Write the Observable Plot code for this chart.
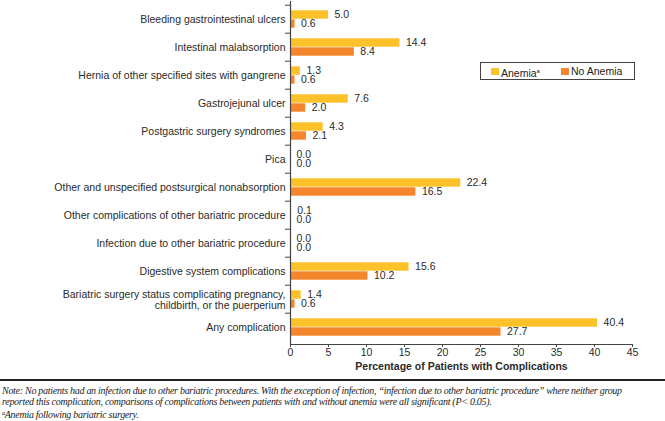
<!DOCTYPE html>
<html>
<head>
<meta charset="utf-8">
<script src="https://cdn.jsdelivr.net/npm/d3@7"></script>
<script src="https://cdn.jsdelivr.net/npm/@observablehq/plot@0.6"></script>
<style>
  body { margin: 0; background: #fff; }
  #wrap { position: relative; width: 665px; height: 421px; overflow: hidden; font-family: "Liberation Sans", Arial, sans-serif; }
  #chart svg { display: block; }
  g[aria-label="x-axis label"] text { font-weight: bold; }
  #legend { position: absolute; left: 480px; top: 62px; width: 153px; height: 16px; border: 1.5px solid #444; font-size: 10.5px; color: #222; }
  #legend .sw { position: absolute; top: 4.5px; width: 7.5px; height: 7.5px; }
  #legend .lb { position: absolute; top: 2px; line-height: 12px; white-space: nowrap; }
  #rule { position: absolute; left: 0; top: 379px; width: 665px; height: 0; border-top: 2px solid #222; }
  #note { position: absolute; left: 2px; top: 385px; font-family: "Liberation Serif", "DejaVu Serif", serif; font-style: italic; font-size: 10px; letter-spacing: -0.28px; line-height: 11.3px; color: #222; white-space: nowrap; }
</style>
</head>
<body>
<div id="wrap">
  <div id="chart"></div>
  <div id="legend"></div>
  <div id="rule"></div>
  <div id="note"></div>
</div>
<script>
const categories = [
  "Bleeding gastrointestinal ulcers",
  "Intestinal malabsorption",
  "Hernia of other specified sites with gangrene",
  "Gastrojejunal ulcer",
  "Postgastric surgery syndromes",
  "Pica",
  "Other and unspecified postsurgical nonabsorption",
  "Other complications of other bariatric procedure",
  "Infection due to other bariatric procedure",
  "Digestive system complications",
  "Bariatric surgery status complicating pregnancy,\nchildbirth, or the puerperium",
  "Any complication"
];
const anemia =   [5.0, 14.4, 1.3, 7.6, 4.3, 0.0, 22.4, 0.1, 0.0, 15.6, 1.4, 40.4];
const noAnemia = [0.6,  8.4, 0.6, 2.0, 2.1, 0.0, 16.5, 0.0, 0.0, 10.2, 0.6, 27.7];
const seriesNames = ["Anemia", "No Anemia"];
const seriesColors = ["#FDC12A", "#F5862B"];
const xTicks = [0, 5, 10, 15, 20, 25, 30, 35, 40, 45];
const xLabel = "Percentage of Patients with Complications";

const rowsA = categories.map((c, i) => ({category: c, value: anemia[i]}));
const rowsN = categories.map((c, i) => ({category: c, value: noAnemia[i]}));

const marginTop = 1, marginBottom = 32, height = 376;
const step = (height - marginTop - marginBottom) / categories.length;
const barH = 9;
const half = step / 2;

const chart = Plot.plot({
  width: 665,
  height,
  marginLeft: 290,
  marginRight: 33,
  marginTop,
  marginBottom,
  style: {fontFamily: "'Liberation Sans', Arial, sans-serif", fontSize: "10.5px", color: "#2a2a2a", background: "#fff"},
  x: {domain: [0, 45]},
  y: {domain: categories, padding: 0, type: "band"},
  marks: [
    Plot.barX(rowsA, {y: "category", x: "value", fill: seriesColors[0], insetTop: half - barH, insetBottom: half}),
    Plot.barX(rowsN, {y: "category", x: "value", fill: seriesColors[1], insetTop: half, insetBottom: half - barH}),
    Plot.text(rowsA, {y: "category", x: "value", text: d => d.value.toFixed(1), dx: 6, dy: -barH / 2, textAnchor: "start", fill: "#2a2a2a", fontSize: 10.5}),
    Plot.text(rowsN, {y: "category", x: "value", text: d => d.value.toFixed(1), dx: 6, dy: barH / 2, textAnchor: "start", fill: "#2a2a2a", fontSize: 10.5}),
    Plot.axisY({tickSize: 0, tickPadding: 5, label: null, fontSize: 10.5, lineHeight: 1.05}),
    Plot.axisY({tickSize: 5, tickFormat: () => "", label: null, dy: -step / 2, stroke: "#444"}),
    Plot.ruleX([0], {stroke: "#444", strokeWidth: 1.2}),
    Plot.frame({anchor: "bottom", stroke: "#444", strokeWidth: 1.2}),
    Plot.axisX({ticks: xTicks, tickSize: 3, tickPadding: 1, label: xLabel, labelAnchor: "center", labelArrow: "none", labelOffset: 25, stroke: "#444", fontSize: 10.5})
  ]
});
document.getElementById("chart").appendChild(chart);

// legend
const legend = document.getElementById("legend");
const legendX = [10, 80];
seriesNames.forEach((name, i) => {
  const sw = document.createElement("div");
  sw.className = "sw";
  sw.style.left = legendX[i] + "px";
  sw.style.background = seriesColors[i];
  legend.appendChild(sw);
  const lb = document.createElement("div");
  lb.className = "lb";
  lb.style.left = (legendX[i] + 10) + "px";
  lb.innerHTML = name + (i === 0 ? "<sup style='font-size:6px;vertical-align:4px'>a</sup>" : "");
  legend.appendChild(lb);
});

const noteLines = [
  "Note: No patients had an infection due to other bariatric procedures. With the exception of infection, \u201cinfection due to other bariatric procedure\u201d where neither group",
  "reported this complication, comparisons of complications between patients with and without anemia were all significant (P< 0.05).",
  "<sup style='font-size:6px;vertical-align:3px'>a</sup>Anemia following bariatric surgery."
];
document.getElementById("note").innerHTML = noteLines.join("<br>");
</script>
</body>
</html>
